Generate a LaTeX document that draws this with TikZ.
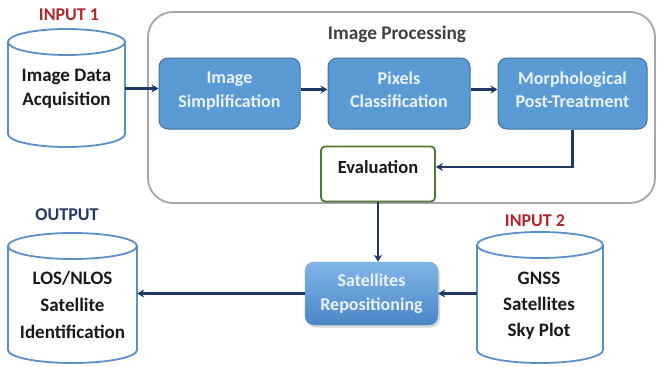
\documentclass[tikz,border=0pt]{standalone}
\usepackage{fontspec}
\setmainfont{Carlito}
\usetikzlibrary{arrows.meta,shadows,calc}
\definecolor{navy}{HTML}{1F3864}
\definecolor{inred}{HTML}{B0282E}
\definecolor{boxblue}{HTML}{5B9BD5}
\definecolor{boxedge}{HTML}{41719C}
\definecolor{cylblue}{HTML}{5A8FC8}
\definecolor{evalgreen}{HTML}{4E7A34}
\definecolor{framegray}{HTML}{A6A6A6}
\definecolor{boxtext}{HTML}{EAF2FB}
\definecolor{reptop}{HTML}{80B5E8}
\definecolor{repbot}{HTML}{4A87C6}
\newcommand\lowpad{\rule[-8pt]{0pt}{0pt}}
\newcommand\drawcyl[5]{%
  \pgfmathsetmacro\cylcx{(#1+#3)/2}%
  \pgfmathsetmacro\cylrx{(#3-#1)/2}%
  \draw[cylline] (\cylcx,#2+#5) ellipse [x radius=\cylrx pt, y radius=#5 pt];
  \draw[cylline] (#1,#2+#5) -- (#1,#4-#5) arc [start angle=180, end angle=360, x radius=\cylrx pt, y radius=#5 pt] -- (#3,#2+#5);
}
\tikzset{
  txt/.style={font=\bfseries\fontsize{19}{24}\selectfont, align=center, inner sep=0pt, text=black!90},
  cylline/.style={draw=cylblue, line width=1.8pt},
  cylnode/.style={inner sep=0pt, draw=none},
  stepbox/.style={draw=boxedge, line width=1pt, fill=boxblue, rounded corners=9pt, text=boxtext,
    font=\bfseries\fontsize{18}{23.5}\selectfont, align=center, inner sep=0pt},
  conn/.style={draw=navy, line width=2.2pt, -{Stealth[length=7pt,width=8pt]}},
  lbl/.style={font=\bfseries\fontsize{18}{20}\selectfont, inner sep=0pt},
}
\begin{document}
\begin{tikzpicture}[x=1pt,y=-1pt]
\useasboundingbox (0,0) rectangle (657,367);
% frame
\node[draw=framegray, line width=1.8pt, rounded corners=25pt, minimum width=507pt, minimum height=191pt, inner sep=0pt] (frame) at (401.5,107.5) {};
\node[lbl, text=black!75, font=\bfseries\fontsize{19.3}{20}\selectfont] (title) at (397,34) {Image Processing};
% labels
\node[lbl, text=inred] (in1) at (69,15) {INPUT 1};
\node[lbl, text=inred] (in2) at (535,221) {INPUT 2};
\node[lbl, text=navy] (out) at (67,215) {OUTPUT};
% cylinders
\drawcyl{8}{29}{125}{147}{13}
\node[cylnode, minimum width=117pt, minimum height=118pt] (c1) at (66.5,88) {};
\node[txt] (c1t) at (66.5,89) {Image Data\\Acquisition};
\drawcyl{8}{233}{137}{363}{13}
\node[cylnode, minimum width=129pt, minimum height=130pt] (c3) at (72.5,298) {};
\node[txt, font=\bfseries\fontsize{19}{27}\selectfont] (c3t) at (72.5,305) {LOS/NLOS\\Satellite\\Identification};
\drawcyl{477}{232}{603}{363}{13}
\node[cylnode, minimum width=126pt, minimum height=131pt] (c2) at (540,297.5) {};
\node[txt, font=\bfseries\fontsize{19}{26}\selectfont] (c2t) at (539,306) {GNSS\\Satellites\\Sky Plot};
% process boxes
\node[stepbox, minimum width=141pt, minimum height=71pt] (simp) at (229.5,93.5) {Image\\Simplification\lowpad};
\node[stepbox, minimum width=142pt, minimum height=71pt] (pix) at (399,93.5) {Pixels\\Classification\lowpad};
\node[stepbox, minimum width=149pt, minimum height=71pt] (morph) at (572.5,93.5) {Morphological\\Post-Treatment\lowpad};
\node[draw=evalgreen, line width=1.8pt, fill=white, rounded corners=4pt, minimum width=114pt, minimum height=55pt, inner sep=0pt] (eval) at (378,174) {};
\node[font=\bfseries\fontsize{18.5}{20}\selectfont, inner sep=0pt, text=black!90] (evalt) at (378,167) {Evaluation};
\node[draw=repbot!80, line width=0.4pt, top color=reptop, bottom color=repbot, rounded corners=9pt,
  minimum width=133pt, minimum height=63pt, text=boxtext, drop shadow={opacity=0.3, shadow xshift=2pt, shadow yshift=-2.5pt},
  font=\bfseries\fontsize{18}{23.5}\selectfont, align=center, inner sep=0pt] (rep) at (371.5,293.5) {Satellites\\Repositioning};
% connectors
\draw[conn] ([yshift=5pt]simp.west -| c1.east) -- ([yshift=5pt]simp.west);
\draw[conn] ([yshift=4pt]simp.east) -- ([yshift=4pt]pix.west);
\draw[conn] ([yshift=4pt]pix.east) -- ([yshift=4pt]morph.west);
\draw[conn] (morph.south) |- (eval.east |- evalt.east);
\draw[conn] (eval.south) -- (eval.south |- rep.north);
\draw[conn] (c2.west |- rep.east) -- (rep.east);
\draw[conn] (rep.west) -- (rep.west -| c3.east);
\end{tikzpicture}
\end{document}
